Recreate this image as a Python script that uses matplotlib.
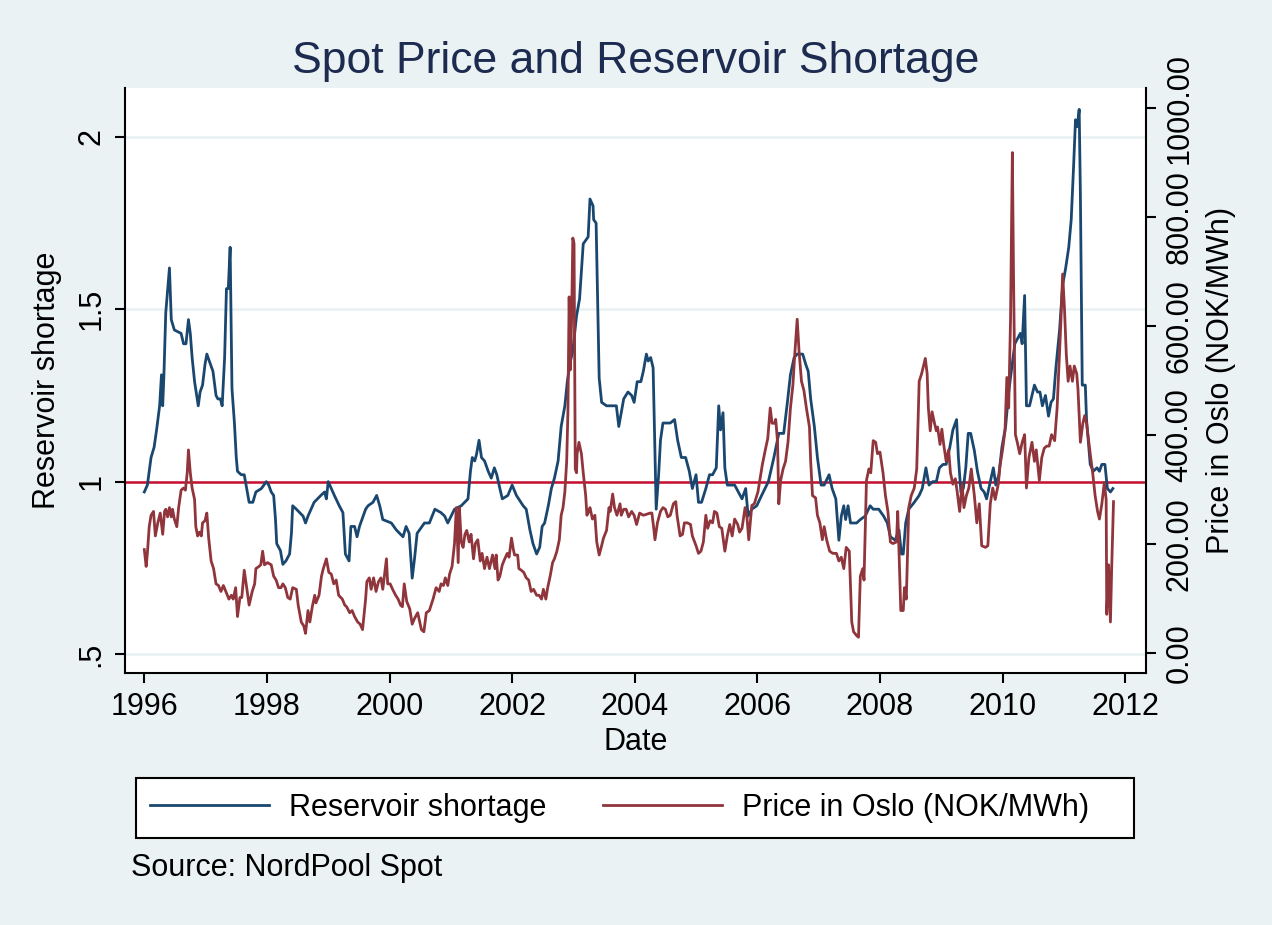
import matplotlib
matplotlib.use("Agg")
import matplotlib.pyplot as plt
from matplotlib.patches import Rectangle

plt.rcParams['font.family'] = ['Liberation Sans', 'DejaVu Sans']

# Reservoir shortage (decimal year, value)
res_date = [1996.00, 1996.05, 1996.11, 1996.16, 1996.20, 1996.25, 1996.28, 1996.30, 1996.32, 1996.35,
            1996.41, 1996.44, 1996.49, 1996.60, 1996.64, 1996.68, 1996.72, 1996.75, 1996.78, 1996.82,
            1996.88, 1996.91, 1996.95, 1996.99, 1997.02, 1997.06, 1997.12, 1997.17, 1997.20, 1997.24,
            1997.27, 1997.31, 1997.34, 1997.37, 1997.40, 1997.43, 1997.47, 1997.50, 1997.52, 1997.58,
            1997.63, 1997.67, 1997.71, 1997.77, 1997.82, 1997.91, 1997.99, 1998.03, 1998.07, 1998.11,
            1998.14, 1998.16, 1998.22, 1998.26, 1998.31, 1998.37, 1998.40, 1998.42, 1998.48, 1998.59,
            1998.63, 1998.67, 1998.77, 1998.88, 1998.94, 1998.97, 1999.00, 1999.05, 1999.10, 1999.18,
            1999.24, 1999.28, 1999.34, 1999.37, 1999.43, 1999.47, 1999.51, 1999.61, 1999.65, 1999.73,
            1999.79, 1999.84, 1999.89, 2000.03, 2000.11, 2000.22, 2000.27, 2000.32, 2000.37, 2000.41,
            2000.45, 2000.57, 2000.65, 2000.74, 2000.84, 2000.90, 2000.95, 2001.06, 2001.17, 2001.28,
            2001.32, 2001.35, 2001.39, 2001.42, 2001.46, 2001.50, 2001.55, 2001.61, 2001.66, 2001.71,
            2001.75, 2001.80, 2001.84, 2001.93, 2002.00, 2002.07, 2002.18, 2002.23, 2002.29, 2002.34,
            2002.40, 2002.45, 2002.49, 2002.53, 2002.59, 2002.64, 2002.69, 2002.75, 2002.80, 2002.86,
            2002.90, 2002.94, 2002.99, 2003.05, 2003.10, 2003.16, 2003.24, 2003.27, 2003.32, 2003.33,
            2003.37, 2003.42, 2003.46, 2003.54, 2003.65, 2003.70, 2003.74, 2003.78, 2003.82, 2003.89,
            2003.95, 2003.99, 2004.04, 2004.10, 2004.14, 2004.19, 2004.22, 2004.26, 2004.30, 2004.32,
            2004.35, 2004.39, 2004.42, 2004.46, 2004.52, 2004.58, 2004.65, 2004.70, 2004.76, 2004.83,
            2004.89, 2004.94, 2005.00, 2005.04, 2005.09, 2005.16, 2005.22, 2005.27, 2005.33, 2005.37,
            2005.40, 2005.44, 2005.47, 2005.51, 2005.55, 2005.63, 2005.69, 2005.75, 2005.81, 2005.85,
            2005.91, 2005.99, 2006.07, 2006.18, 2006.27, 2006.35, 2006.43, 2006.49, 2006.54, 2006.60,
            2006.65, 2006.74, 2006.79, 2006.83, 2006.87, 2006.93, 2006.98, 2007.04, 2007.09, 2007.17,
            2007.22, 2007.28, 2007.33, 2007.37, 2007.41, 2007.44, 2007.48, 2007.52, 2007.62, 2007.68,
            2007.76, 2007.84, 2007.89, 2007.98, 2008.06, 2008.12, 2008.17, 2008.25, 2008.31, 2008.35,
            2008.38, 2008.42, 2008.47, 2008.56, 2008.64, 2008.69, 2008.75, 2008.80, 2008.86, 2008.92,
            2008.97, 2009.03, 2009.08, 2009.14, 2009.19, 2009.25, 2009.28, 2009.32, 2009.36, 2009.40,
            2009.44, 2009.48, 2009.54, 2009.59, 2009.65, 2009.70, 2009.74, 2009.80, 2009.85, 2009.89,
            2009.94, 2009.99, 2010.05, 2010.10, 2010.15, 2010.20, 2010.26, 2010.29, 2010.32, 2010.36,
            2010.39, 2010.44, 2010.52, 2010.57, 2010.61, 2010.65, 2010.70, 2010.75, 2010.79, 2010.83,
            2010.87, 2010.93, 2010.98, 2011.03, 2011.08, 2011.12, 2011.16, 2011.19, 2011.22, 2011.25,
            2011.27, 2011.30, 2011.35, 2011.37, 2011.43, 2011.48, 2011.54, 2011.58, 2011.62, 2011.67,
            2011.71, 2011.76, 2011.80]
res_val = [0.97, 0.99, 1.07, 1.10, 1.15, 1.22, 1.31, 1.22, 1.31, 1.49,
           1.62, 1.47, 1.44, 1.43, 1.40, 1.40, 1.47, 1.43, 1.36, 1.29,
           1.22, 1.26, 1.28, 1.34, 1.37, 1.35, 1.32, 1.25, 1.24, 1.24,
           1.22, 1.36, 1.56, 1.56, 1.68, 1.27, 1.17, 1.07, 1.03, 1.02,
           1.02, 0.98, 0.94, 0.94, 0.97, 0.98, 1.00, 0.99, 0.97, 0.96,
           0.89, 0.82, 0.80, 0.76, 0.77, 0.79, 0.85, 0.93, 0.92, 0.90,
           0.88, 0.90, 0.94, 0.96, 0.97, 0.95, 1.00, 0.98, 0.96, 0.93,
           0.91, 0.79, 0.77, 0.87, 0.87, 0.84, 0.87, 0.92, 0.93, 0.94,
           0.96, 0.93, 0.89, 0.88, 0.86, 0.84, 0.87, 0.85, 0.72, 0.78,
           0.85, 0.88, 0.88, 0.92, 0.91, 0.90, 0.88, 0.92, 0.93, 0.95,
           1.03, 1.07, 1.06, 1.08, 1.12, 1.07, 1.06, 1.03, 1.01, 1.04,
           1.02, 0.98, 0.95, 0.96, 0.99, 0.96, 0.93, 0.92, 0.86, 0.82,
           0.79, 0.81, 0.87, 0.88, 0.93, 0.98, 1.01, 1.06, 1.16, 1.22,
           1.29, 1.34, 1.38, 1.48, 1.53, 1.69, 1.71, 1.82, 1.80, 1.76,
           1.75, 1.30, 1.23, 1.22, 1.22, 1.22, 1.16, 1.20, 1.24, 1.26,
           1.25, 1.23, 1.29, 1.29, 1.32, 1.37, 1.35, 1.36, 1.33, 1.16,
           0.92, 1.02, 1.12, 1.17, 1.17, 1.17, 1.18, 1.12, 1.07, 1.07,
           1.03, 0.98, 1.02, 0.94, 0.94, 0.98, 1.02, 1.02, 1.04, 1.22,
           1.15, 1.20, 1.04, 0.99, 0.99, 0.99, 0.97, 0.95, 0.98, 0.90,
           0.92, 0.93, 0.96, 1.00, 1.07, 1.14, 1.14, 1.23, 1.31, 1.36,
           1.37, 1.37, 1.34, 1.32, 1.24, 1.16, 1.07, 0.99, 0.99, 1.02,
           0.98, 0.95, 0.83, 0.90, 0.93, 0.89, 0.93, 0.88, 0.88, 0.89,
           0.90, 0.93, 0.92, 0.92, 0.90, 0.88, 0.84, 0.83, 0.86, 0.79,
           0.79, 0.88, 0.92, 0.94, 0.96, 0.98, 1.04, 0.99, 1.00, 1.00,
           1.04, 1.05, 1.05, 1.10, 1.15, 1.18, 1.07, 0.97, 0.98, 1.04,
           1.14, 1.14, 1.09, 1.03, 0.98, 0.97, 0.95, 1.00, 1.04, 0.99,
           1.02, 1.10, 1.16, 1.26, 1.33, 1.40, 1.42, 1.43, 1.40, 1.54,
           1.22, 1.22, 1.28, 1.26, 1.26, 1.22, 1.25, 1.19, 1.23, 1.24,
           1.33, 1.44, 1.57, 1.62, 1.68, 1.76, 1.92, 2.05, 2.03, 2.08,
           1.83, 1.28, 1.28, 1.18, 1.05, 1.03, 1.04, 1.03, 1.05, 1.05,
           0.98, 0.97, 0.98]

# Spot price in Oslo, NOK/MWh (decimal year, value)
price_date = [1996.00, 1996.03, 1996.05, 1996.08, 1996.11, 1996.15, 1996.18, 1996.22, 1996.26, 1996.30,
              1996.33, 1996.35, 1996.38, 1996.41, 1996.44, 1996.46, 1996.49, 1996.53, 1996.56, 1996.60,
              1996.64, 1996.67, 1996.70, 1996.72, 1996.75, 1996.78, 1996.82, 1996.84, 1996.87, 1996.90,
              1996.93, 1996.95, 1996.99, 1997.02, 1997.05, 1997.09, 1997.13, 1997.17, 1997.21, 1997.25,
              1997.29, 1997.33, 1997.38, 1997.42, 1997.45, 1997.49, 1997.52, 1997.56, 1997.59, 1997.63,
              1997.67, 1997.71, 1997.76, 1997.80, 1997.82, 1997.87, 1997.90, 1997.93, 1997.96, 1998.01,
              1998.07, 1998.11, 1998.15, 1998.19, 1998.23, 1998.26, 1998.30, 1998.34, 1998.38, 1998.42,
              1998.48, 1998.51, 1998.56, 1998.60, 1998.63, 1998.67, 1998.70, 1998.74, 1998.78, 1998.80,
              1998.85, 1998.89, 1998.92, 1998.97, 1999.01, 1999.05, 1999.09, 1999.13, 1999.17, 1999.23,
              1999.27, 1999.30, 1999.35, 1999.39, 1999.43, 1999.48, 1999.52, 1999.56, 1999.61, 1999.63,
              1999.67, 1999.70, 1999.74, 1999.78, 1999.82, 1999.86, 1999.89, 1999.95, 1999.97, 2000.01,
              2000.05, 2000.10, 2000.14, 2000.18, 2000.21, 2000.24, 2000.28, 2000.33, 2000.37, 2000.41,
              2000.46, 2000.52, 2000.56, 2000.60, 2000.65, 2000.71, 2000.76, 2000.81, 2000.84, 2000.88,
              2000.91, 2000.95, 2000.98, 2001.02, 2001.06, 2001.09, 2001.12, 2001.14, 2001.17, 2001.20,
              2001.23, 2001.26, 2001.30, 2001.33, 2001.37, 2001.40, 2001.44, 2001.48, 2001.51, 2001.55,
              2001.59, 2001.63, 2001.68, 2001.72, 2001.74, 2001.77, 2001.80, 2001.84, 2001.88, 2001.92,
              2001.95, 2001.99, 2002.02, 2002.04, 2002.09, 2002.11, 2002.15, 2002.19, 2002.23, 2002.27,
              2002.31, 2002.35, 2002.40, 2002.44, 2002.48, 2002.51, 2002.55, 2002.58, 2002.62, 2002.66,
              2002.69, 2002.73, 2002.77, 2002.80, 2002.83, 2002.86, 2002.89, 2002.91, 2002.93, 2002.95,
              2002.97, 2002.99, 2003.01, 2003.03, 2003.05, 2003.06, 2003.09, 2003.13, 2003.16, 2003.20,
              2003.22, 2003.25, 2003.27, 2003.31, 2003.35, 2003.38, 2003.42, 2003.46, 2003.49, 2003.54,
              2003.58, 2003.60, 2003.64, 2003.67, 2003.71, 2003.76, 2003.78, 2003.82, 2003.86, 2003.90,
              2003.95, 2003.99, 2004.03, 2004.08, 2004.14, 2004.20, 2004.25, 2004.28, 2004.31, 2004.33,
              2004.37, 2004.42, 2004.46, 2004.50, 2004.54, 2004.58, 2004.63, 2004.67, 2004.69, 2004.74,
              2004.78, 2004.81, 2004.86, 2004.91, 2004.94, 2005.00, 2005.04, 2005.08, 2005.12, 2005.16,
              2005.19, 2005.23, 2005.27, 2005.30, 2005.34, 2005.38, 2005.42, 2005.47, 2005.51, 2005.55,
              2005.59, 2005.63, 2005.68, 2005.71, 2005.75, 2005.80, 2005.83, 2005.86, 2005.91, 2005.95,
              2006.01, 2006.05, 2006.08, 2006.13, 2006.17, 2006.21, 2006.24, 2006.28, 2006.30, 2006.33,
              2006.35, 2006.38, 2006.42, 2006.46, 2006.50, 2006.54, 2006.58, 2006.61, 2006.65, 2006.68,
              2006.72, 2006.76, 2006.80, 2006.85, 2006.87, 2006.90, 2006.95, 2006.98, 2007.02, 2007.06,
              2007.09, 2007.13, 2007.18, 2007.23, 2007.29, 2007.33, 2007.37, 2007.41, 2007.45, 2007.50,
              2007.54, 2007.57, 2007.62, 2007.65, 2007.68, 2007.72, 2007.74, 2007.78, 2007.82, 2007.85,
              2007.89, 2007.93, 2007.96, 2008.00, 2008.05, 2008.09, 2008.13, 2008.17, 2008.21, 2008.27,
              2008.29, 2008.31, 2008.34, 2008.38, 2008.40, 2008.43, 2008.47, 2008.51, 2008.56, 2008.60,
              2008.64, 2008.68, 2008.71, 2008.74, 2008.77, 2008.79, 2008.82, 2008.85, 2008.89, 2008.92,
              2008.94, 2008.98, 2009.01, 2009.04, 2009.08, 2009.12, 2009.15, 2009.19, 2009.23, 2009.26,
              2009.30, 2009.34, 2009.37, 2009.41, 2009.45, 2009.49, 2009.54, 2009.58, 2009.62, 2009.66,
              2009.72, 2009.76, 2009.80, 2009.84, 2009.88, 2009.93, 2009.96, 2010.00, 2010.04, 2010.07,
              2010.10, 2010.13, 2010.16, 2010.18, 2010.21, 2010.24, 2010.28, 2010.32, 2010.36, 2010.39,
              2010.43, 2010.48, 2010.52, 2010.55, 2010.60, 2010.64, 2010.68, 2010.72, 2010.76, 2010.80,
              2010.85, 2010.89, 2010.92, 2010.95, 2010.98, 2011.01, 2011.04, 2011.07, 2011.10, 2011.14,
              2011.17, 2011.21, 2011.23, 2011.27, 2011.31, 2011.34, 2011.37, 2011.43, 2011.47, 2011.51,
              2011.55, 2011.58, 2011.62, 2011.66, 2011.69, 2011.70, 2011.73, 2011.76, 2011.78, 2011.81]
price_val = [190, 159, 183, 232, 253, 260, 215, 239, 257, 218,
             260, 264, 250, 267, 250, 264, 246, 232, 267, 299,
             303, 299, 331, 373, 331, 303, 282, 232, 215, 222,
             215, 239, 243, 257, 211, 169, 155, 127, 124, 113,
             124, 113, 99, 106, 99, 120, 67, 102, 102, 152,
             120, 88, 113, 127, 155, 159, 162, 187, 162, 166,
             162, 141, 134, 120, 120, 127, 120, 102, 99, 120,
             117, 88, 57, 50, 36, 78, 57, 85, 106, 92,
             106, 141, 155, 173, 148, 145, 127, 134, 106, 99,
             88, 85, 74, 78, 67, 57, 53, 43, 99, 131,
             138, 117, 138, 113, 131, 138, 117, 173, 127, 127,
             117, 106, 99, 88, 85, 127, 95, 81, 53, 64,
             74, 43, 39, 74, 78, 99, 120, 113, 127, 124,
             138, 124, 145, 159, 201, 267, 166, 267, 204, 194,
             218, 225, 204, 218, 173, 201, 208, 169, 183, 155,
             176, 155, 180, 155, 180, 134, 141, 162, 173, 183,
             176, 211, 190, 180, 180, 155, 152, 148, 138, 134,
             113, 117, 106, 106, 99, 117, 99, 120, 141, 166,
             173, 187, 208, 253, 267, 296, 352, 443, 654, 520,
             612, 762, 752, 338, 331, 366, 387, 366, 331, 289,
             253, 260, 267, 246, 253, 204, 180, 197, 211, 225,
             267, 260, 292, 267, 253, 274, 253, 264, 264, 250,
             260, 253, 236, 257, 253, 255, 257, 257, 229, 208,
             239, 260, 267, 264, 250, 253, 274, 278, 253, 215,
             218, 239, 239, 236, 215, 197, 183, 187, 204, 253,
             229, 243, 239, 260, 257, 232, 229, 187, 215, 236,
             215, 246, 236, 222, 229, 267, 250, 208, 271, 274,
             296, 324, 345, 373, 394, 450, 422, 422, 429, 387,
             274, 317, 338, 352, 387, 450, 492, 548, 613, 555,
             499, 482, 450, 415, 352, 289, 285, 253, 239, 208,
             232, 208, 187, 183, 183, 169, 176, 155, 194, 187,
             57, 39, 32, 29, 141, 155, 134, 317, 338, 331,
             390, 387, 366, 369, 331, 289, 260, 204, 201, 204,
             260, 190, 78, 78, 120, 99, 267, 289, 303, 338,
             499, 513, 527, 541, 513, 450, 408, 443, 422, 408,
             415, 383, 411, 383, 352, 373, 331, 310, 320, 296,
             260, 310, 267, 289, 303, 338, 289, 239, 274, 197,
             194, 197, 274, 303, 282, 310, 345, 373, 408, 506,
             450, 612, 919, 682, 401, 387, 366, 387, 401, 303,
             359, 387, 352, 373, 317, 359, 376, 380, 380, 401,
             390, 450, 527, 604, 696, 633, 548, 499, 527, 499,
             527, 513, 485, 387, 422, 436, 422, 366, 331, 289,
             260, 246, 274, 313, 282, 71, 162, 57, 155, 278]

x_ticks = [1996, 1998, 2000, 2002, 2004, 2006, 2008, 2010, 2012]
left_ticks = [0.5, 1, 1.5, 2]
left_labels = [".5", "1", "1.5", "2"]
right_ticks = [0, 200, 400, 600, 800, 1000]
right_labels = ["0.00", "200.00", "400.00", "600.00", "800.00", "1000.00"]

bg = '#EAF2F3'
blue = '#1A476F'
red = '#90353B'
W, H = 1272, 925

fig = plt.figure(figsize=(W / 100, H / 100), dpi=100, facecolor=bg)
ax = fig.add_axes([125 / W, 1 - 673 / H, (1146 - 125) / W, (673 - 88) / H])
ax.set_facecolor('white')
ax2 = ax.twinx()

l1, = ax.plot(res_date, res_val, color=blue, lw=2.0, zorder=3)
ax.axhline(1, color='#C8102E', lw=1.8, zorder=2)
l2, = ax2.plot(price_date, price_val, color=red, lw=2.0, zorder=3)

ax.set_xlim(1995.685, 2012.34)
ax.set_ylim(0.4448, 2.142)
ax2.set_ylim(-36.7, 1037.6)

ax.set_xticks(x_ticks)
ax.set_yticks(left_ticks)
ax.set_yticklabels(left_labels, rotation=90, va='center')
ax2.set_yticks(right_ticks)
ax2.set_yticklabels(right_labels, rotation=90, va='center')

ax.yaxis.grid(True, color=bg, lw=2)
ax.set_axisbelow(True)

for a in (ax, ax2):
    a.spines['top'].set_visible(False)
    for s in ('left', 'right', 'bottom'):
        a.spines[s].set_linewidth(1.5)
    a.tick_params(width=1.5, length=7.5, labelsize=22, pad=6)
ax.spines['right'].set_visible(False)
ax2.spines['left'].set_visible(False)
ax2.spines['bottom'].set_visible(False)

ax.set_xlabel("Date", fontsize=22, labelpad=4)
ax.set_ylabel("Reservoir shortage", fontsize=22, labelpad=10)
ax2.set_ylabel("Price in Oslo (NOK/MWh)", fontsize=22, labelpad=8)

fig.text(636 / W, 1 - 61 / H, "Spot Price and Reservoir Shortage", ha='center', va='center',
         fontsize=32, color='#1C2B4F')

# legend box drawn separately so the entries can sit where the original has them
fig.patches.append(Rectangle((136 / W, 1 - 838 / H), 998 / W, 60 / H, transform=fig.transFigure,
                             facecolor='white', edgecolor='black', lw=1.5, zorder=0))
leg = fig.legend([l1, l2], ["Reservoir shortage", "Price in Oslo (NOK/MWh)"],
                 loc='center left', bbox_to_anchor=(150 / W, 1 - 808 / H),
                 ncol=2, frameon=False, handlelength=3.9, borderaxespad=0, borderpad=0,
                 fontsize=22, handletextpad=0.65, columnspacing=1.85)

fig.text(131 / W, 1 - 868 / H, "Source: NordPool Spot", ha='left', va='center', fontsize=22)

fig.savefig("out.png", dpi=100, facecolor=bg)
